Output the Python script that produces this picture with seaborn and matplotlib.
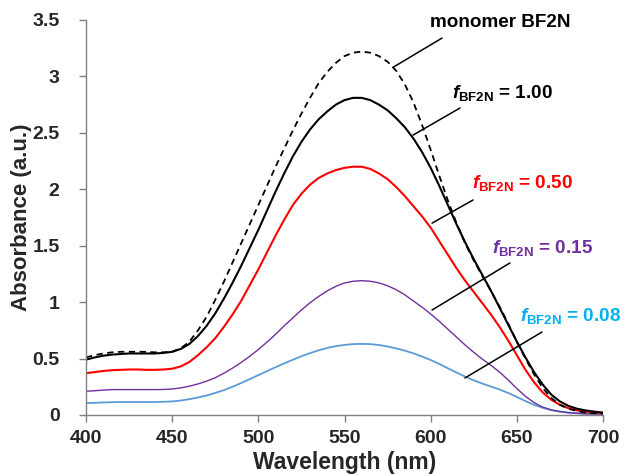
import numpy as np
import pandas as pd
import matplotlib
matplotlib.use("Agg")
import matplotlib.pyplot as plt
from matplotlib.ticker import FuncFormatter
import seaborn as sns

# absorbance spectra, every 5 nm (400 ... 700)
wavelength = list(range(400, 701, 5))
monomer = [0.51, 0.53, 0.545, 0.555, 0.56, 0.56, 0.56, 0.56, 0.555, 0.555,
           0.56, 0.59, 0.65, 0.75, 0.87, 1.02, 1.18, 1.35, 1.52, 1.69,
           1.86, 2.03, 2.20, 2.36, 2.52, 2.67, 2.81, 2.94, 3.04, 3.12,
           3.18, 3.21, 3.22, 3.21, 3.18, 3.13, 3.05, 2.93, 2.77, 2.57,
           2.35, 2.12, 1.90, 1.70, 1.52, 1.37, 1.23, 1.10, 0.96, 0.81,
           0.65, 0.50, 0.36, 0.24, 0.15, 0.09, 0.055, 0.035, 0.02, 0.015, 0.01]
f100 = [0.49, 0.51, 0.525, 0.535, 0.54, 0.545, 0.545, 0.545, 0.545, 0.55,
        0.56, 0.585, 0.63, 0.70, 0.79, 0.90, 1.03, 1.17, 1.32, 1.48,
        1.64, 1.81, 1.98, 2.14, 2.29, 2.42, 2.53, 2.62, 2.69, 2.75,
        2.79, 2.81, 2.81, 2.79, 2.75, 2.70, 2.63, 2.55, 2.45, 2.33,
        2.19, 2.03, 1.86, 1.69, 1.53, 1.38, 1.24, 1.10, 0.95, 0.80,
        0.65, 0.51, 0.38, 0.27, 0.18, 0.12, 0.08, 0.055, 0.04, 0.03, 0.02]
f050 = [0.37, 0.38, 0.39, 0.397, 0.40, 0.403, 0.403, 0.40, 0.40, 0.403,
        0.41, 0.43, 0.47, 0.53, 0.60, 0.68, 0.78, 0.89, 1.01, 1.15,
        1.29, 1.44, 1.59, 1.73, 1.86, 1.96, 2.04, 2.10, 2.14, 2.17,
        2.19, 2.20, 2.20, 2.18, 2.14, 2.09, 2.02, 1.94, 1.85, 1.76,
        1.66, 1.54, 1.42, 1.30, 1.19, 1.09, 0.99, 0.89, 0.78, 0.66,
        0.53, 0.40, 0.29, 0.20, 0.135, 0.09, 0.06, 0.04, 0.03, 0.02, 0.02]
f015 = [0.21, 0.215, 0.22, 0.225, 0.225, 0.225, 0.225, 0.225, 0.225, 0.226,
        0.23, 0.24, 0.255, 0.275, 0.30, 0.33, 0.37, 0.415, 0.465, 0.52,
        0.58, 0.645, 0.715, 0.79, 0.86, 0.93, 0.995, 1.05, 1.10, 1.14,
        1.17, 1.185, 1.19, 1.185, 1.17, 1.145, 1.11, 1.065, 1.01, 0.955,
        0.895, 0.83, 0.76, 0.69, 0.62, 0.555, 0.495, 0.44, 0.38, 0.31,
        0.235, 0.165, 0.11, 0.07, 0.045, 0.03, 0.02, 0.015, 0.01, 0.01, 0.01]
f008 = [0.105, 0.108, 0.111, 0.113, 0.115, 0.115, 0.115, 0.115, 0.115, 0.117,
        0.12, 0.128, 0.14, 0.155, 0.173, 0.195, 0.22, 0.25, 0.283, 0.318,
        0.353, 0.388, 0.423, 0.457, 0.489, 0.52, 0.548, 0.573, 0.594, 0.61,
        0.621, 0.628, 0.63, 0.628, 0.62, 0.607, 0.59, 0.57, 0.546, 0.518,
        0.487, 0.452, 0.414, 0.376, 0.34, 0.307, 0.278, 0.252, 0.226, 0.195,
        0.16, 0.123, 0.09, 0.063, 0.043, 0.03, 0.021, 0.015, 0.011, 0.01, 0.01]

sns.set_style("white")
plt.rcParams["font.family"] = ["Liberation Sans", "DejaVu Sans"]
plt.rcParams["mathtext.fontset"] = "custom"
plt.rcParams["mathtext.it"] = "Liberation Sans:italic:bold"
plt.rcParams["mathtext.bf"] = "Liberation Sans:bold"
plt.rcParams["mathtext.rm"] = "Liberation Sans:bold"

df = pd.DataFrame({"wl": wavelength, "monomer": monomer, "f100": f100,
                   "f050": f050, "f015": f015, "f008": f008})

fig = plt.figure(figsize=(6.25, 4.76), dpi=100)
ax = fig.add_axes([0.1376, 0.1282, 0.8272, 0.8298])

sns.lineplot(data=df, x="wl", y="f008", color="#5B9BD5", lw=1.3, ax=ax)
sns.lineplot(data=df, x="wl", y="f015", color="#7030A0", lw=1.0, ax=ax)
sns.lineplot(data=df, x="wl", y="f050", color="#FF0000", lw=1.5, ax=ax)
sns.lineplot(data=df, x="wl", y="f100", color="black", lw=1.5, ax=ax)
sns.lineplot(data=df, x="wl", y="monomer", color="black", lw=1.3, ax=ax)
ax.lines[-1].set_dashes([3.5, 2.5])
for ln in ax.lines:
    ln.set_solid_joinstyle("round")

ax.set_xlim(400, 700)
ax.set_ylim(0, 3.5)
ax.set_xticks(np.arange(400, 701, 50))
ax.set_yticks(np.arange(0, 3.51, 0.5))
ax.yaxis.set_major_formatter(FuncFormatter(lambda v, p: f"{v:g}"))
ax.set_xlabel("Wavelength (nm)", fontsize=16.5, fontweight="bold", labelpad=3)
ax.set_ylabel("Absorbance (a.u.)", fontsize=16, fontweight="bold", labelpad=0.5)
ax.tick_params(axis="both", labelsize=14, direction="out", length=5, width=1,
               color="#808080", left=True, bottom=True)
ax.tick_params(axis="x", pad=6)
ax.tick_params(axis="y", pad=14)
for lab in ax.get_xticklabels() + ax.get_yticklabels():
    lab.set_fontweight("bold")
for side in ["top", "right"]:
    ax.spines[side].set_visible(False)
for side in ["left", "bottom"]:
    ax.spines[side].set_color("#808080")
    ax.spines[side].set_linewidth(1)

# labels with leader lines
labels = [
    ("monomer BF2N", "black", (599.6, 3.48), (606.6, 3.34), (578.1, 3.08)),
    (r"$f_{\mathbf{BF2N}}$ = 1.00", "black", (612.4, 2.85), (617.0, 2.72), (589.8, 2.48)),
    (r"$f_{\mathbf{BF2N}}$ = 0.50", "#FF0000", (624.0, 2.06), (624.6, 1.905), (600.8, 1.70)),
    (r"$f_{\mathbf{BF2N}}$ = 0.15", "#7030A0", (635.6, 1.48), (646.0, 1.347), (600.8, 0.93)),
    (r"$f_{\mathbf{BF2N}}$ = 0.08", "#00B0F0", (651.8, 0.877), (664.6, 0.735), (619.9, 0.328)),
]
for txt, col, tpos, p0, p1 in labels:
    ax.text(tpos[0], tpos[1], txt, color=col, fontsize=13.6, fontweight="bold",
            ha="left", va="center", clip_on=False)
    ax.plot([p0[0], p1[0]], [p0[1], p1[1]], color="black", lw=1.1, clip_on=False)

fig.savefig("out.png", dpi=100)
